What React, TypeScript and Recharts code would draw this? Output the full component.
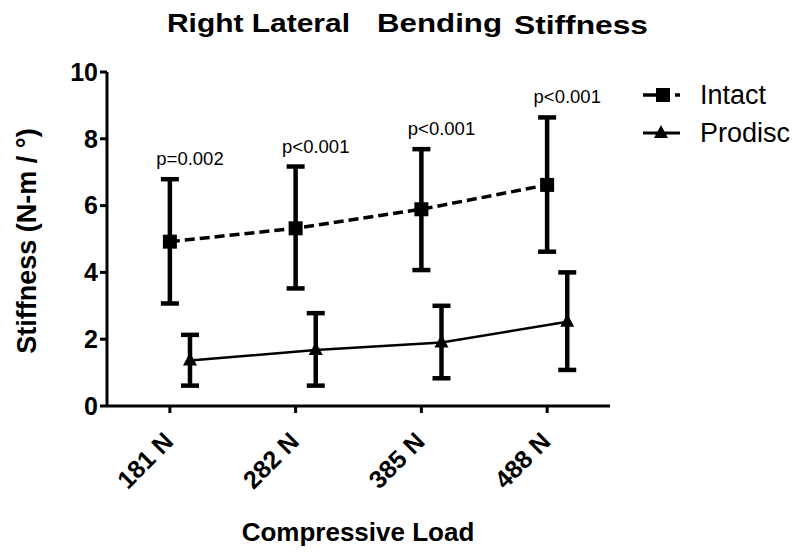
import { LineChart, Line, XAxis, YAxis, ErrorBar, LabelList } from 'recharts';

const FONT = "Arial, 'Liberation Sans', Helvetica, sans-serif";

const loads = ['181 N', '282 N', '385 N', '488 N'];
const intactMean = [4.92, 5.32, 5.89, 6.62];
const intactLow = [3.07, 3.52, 4.07, 4.62];
const intactHigh = [6.79, 7.17, 7.69, 8.64];
const prodiscMean = [1.36, 1.68, 1.9, 2.52];
const prodiscLow = [0.61, 0.61, 0.83, 1.08];
const prodiscHigh = [2.13, 2.78, 3.0, 4.0];
const pValues = ['p=0.002', 'p<0.001', 'p<0.001', 'p<0.001'];
const yTicks = [0, 2, 4, 6, 8, 10];

// Prodisc points (and the p labels) sit a little to the right of each load
const SHIFT = 0.16;

const intactData = loads.map((_, i) => ({
    x: i,
    y: intactMean[i],
    err: [intactMean[i] - intactLow[i], intactHigh[i] - intactMean[i]],
}));

const prodiscData = loads.map((_, i) => ({
    x: i + SHIFT,
    y: prodiscMean[i],
    err: [prodiscMean[i] - prodiscLow[i], prodiscHigh[i] - prodiscMean[i]],
}));

const pData = loads.map((_, i) => ({ x: i + SHIFT, y: intactHigh[i], p: pValues[i] }));

const SquareDot = (props: any) => {
    const { cx, cy, index } = props;
    return <rect key={`sq-${index}`} x={cx - 7} y={cy - 7} width={14} height={14} fill="#000" />;
};

const TriangleDot = (props: any) => {
    const { cx, cy, index } = props;
    return (
        <polygon
            key={`tri-${index}`}
            points={`${cx},${cy - 8} ${cx - 7},${cy + 5} ${cx + 7},${cy + 5}`}
            fill="#000"
        />
    );
};

const XTick = ({ x, y, payload }: any) => (
    <text
        transform={`translate(${x + 5},${y + 28}) rotate(-45)`}
        textAnchor="end"
        fontSize={25}
        fontWeight="bold"
        fontFamily={FONT}
        fill="#000"
    >
        {loads[payload.value]}
    </text>
);

const PLabel = (props: any) => {
    const { x, y, value } = props;
    return (
        <text x={x} y={y - 14} textAnchor="middle" fontSize={18.5} fontFamily={FONT} fill="#000">
            {value}
        </text>
    );
};

export default function App() {
    return (
        <div style={{ position: 'absolute', left: 0, top: 0, width: 800, height: 555, background: '#fff' }}>
            <LineChart width={800} height={555} margin={{ top: 72, right: 190, bottom: 0, left: 0 }}>
                <XAxis
                    type="number"
                    dataKey="x"
                    domain={[-0.5, 3.5]}
                    ticks={[0, 1, 2, 3]}
                    height={149}
                    axisLine={{ stroke: '#000', strokeWidth: 3 }}
                    tickLine={{ stroke: '#000', strokeWidth: 3 }}
                    tickSize={7}
                    tick={<XTick />}
                    interval={0}
                />
                <YAxis
                    type="number"
                    domain={[0, 10]}
                    ticks={yTicks}
                    width={107}
                    axisLine={{ stroke: '#000', strokeWidth: 3 }}
                    tickLine={{ stroke: '#000', strokeWidth: 3 }}
                    tickSize={7}
                    tickMargin={2}
                    tick={{ fill: '#000', fontSize: 25, fontWeight: 'bold', fontFamily: FONT }}
                    allowDataOverflow
                />
                <Line
                    data={intactData}
                    dataKey="y"
                    stroke="#000"
                    strokeWidth={3.5}
                    strokeDasharray="10 5"
                    dot={SquareDot}
                    isAnimationActive={false}
                >
                    <ErrorBar dataKey="err" direction="y" width={9} strokeWidth={4.5} stroke="#000" />
                </Line>
                <Line
                    data={prodiscData}
                    dataKey="y"
                    stroke="#000"
                    strokeWidth={2.5}
                    dot={TriangleDot}
                    isAnimationActive={false}
                >
                    <ErrorBar dataKey="err" direction="y" width={9} strokeWidth={4.5} stroke="#000" />
                </Line>
                <Line
                    data={pData}
                    dataKey="y"
                    stroke="none"
                    dot={false}
                    activeDot={false}
                    isAnimationActive={false}
                >
                    <LabelList dataKey="p" content={<PLabel />} />
                </Line>
            </LineChart>
            <svg
                width={800}
                height={555}
                style={{ position: 'absolute', left: 0, top: 0, pointerEvents: 'none' }}
                fontFamily={FONT}
            >
                <text x={167} y={32} fontSize={26} fontWeight="bold" textLength={183} lengthAdjust="spacingAndGlyphs">
                    Right Lateral
                </text>
                <text x={377} y={32} fontSize={26} fontWeight="bold" textLength={125} lengthAdjust="spacingAndGlyphs">
                    Bending
                </text>
                <text x={514} y={34} fontSize={26} fontWeight="bold" textLength={134} lengthAdjust="spacingAndGlyphs">
                    Stiffness
                </text>
                <text
                    transform="translate(36,241) rotate(-90)"
                    textAnchor="middle"
                    fontSize={27}
                    fontWeight="bold"
                >
                    Stiffness (N-m / °)
                </text>
                <text x={358} y={541} textAnchor="middle" fontSize={26} fontWeight="bold">
                    Compressive Load
                </text>
                {/* legend */}
                <line x1={643} y1={95} x2={657} y2={95} stroke="#000" strokeWidth={3.5} />
                <rect x={656} y={88} width={14} height={14} fill="#000" />
                <line x1={675} y1={95} x2={680} y2={95} stroke="#000" strokeWidth={3.5} />
                <text x={700} y={104} fontSize={27}>Intact</text>
                <line x1={643} y1={133} x2={680} y2={133} stroke="#000" strokeWidth={3} />
                <polygon points="661,125 654,138 668,138" fill="#000" />
                <text x={700} y={142} fontSize={27}>Prodisc</text>
            </svg>
        </div>
    );
}
